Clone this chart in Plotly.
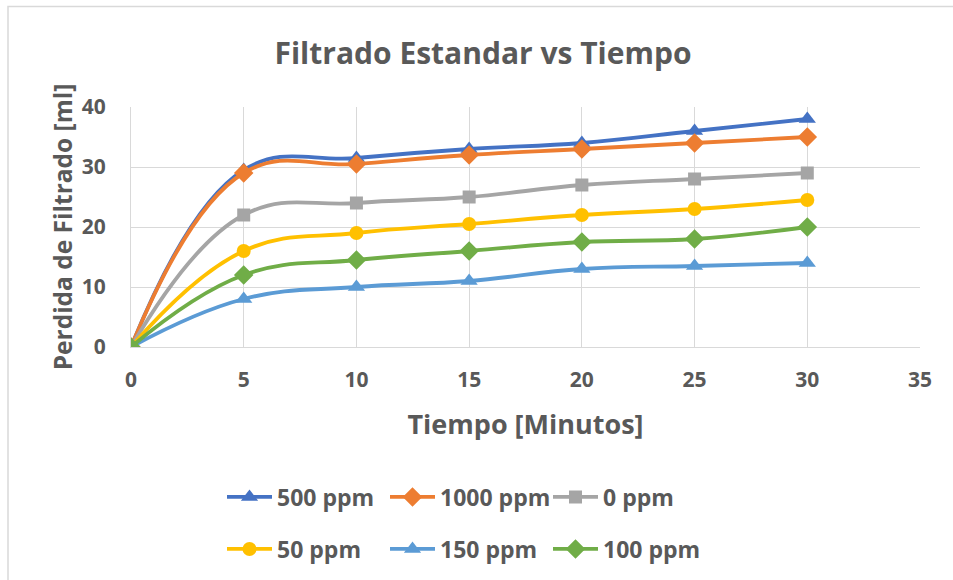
import plotly.graph_objects as go

# Tiempo (minutos)
tiempo = [0, 5, 10, 15, 20, 25, 30]

# Pérdida de filtrado (ml) por concentración
ppm_500 = [0, 29.5, 31.5, 33, 34, 36, 38]
ppm_1000 = [0, 29, 30.5, 32, 33, 34, 35]
ppm_0 = [0, 22, 24, 25, 27, 28, 29]
ppm_50 = [0, 16, 19, 20.5, 22, 23, 24.5]
ppm_150 = [0, 8, 10, 11, 13, 13.5, 14]
ppm_100 = [0, 12, 14.5, 16, 17.5, 18, 20]

series = [
    ("500 ppm", ppm_500, "#4472C4", "triangle-up", 15, "legend"),
    ("1000 ppm", ppm_1000, "#ED7D31", "diamond", 15, "legend"),
    ("0 ppm", ppm_0, "#A5A5A5", "square", 13, "legend"),
    ("50 ppm", ppm_50, "#FFC000", "circle", 14, "legend2"),
    ("150 ppm", ppm_150, "#5B9BD5", "triangle-up", 15, "legend2"),
    ("100 ppm", ppm_100, "#70AD47", "diamond", 15, "legend2"),
]

FONT = "Open Sans"
GREY = "#595959"
GRID = "#D9D9D9"

fig = go.Figure()
for name, vals, color, symbol, size, leg in series:
    fig.add_trace(go.Scatter(
        x=tiempo, y=vals, name=name, mode="lines+markers",
        line=dict(color=color, width=3.8, shape="spline", smoothing=1.2),
        marker=dict(color=color, symbol=symbol, size=size),
        legend=leg,
    ))

W, H = 953, 580
L, R, T, B = 131, 33, 107, 232

legend_style = dict(
    orientation="h", xanchor="left", yanchor="middle",
    entrywidth=103, entrywidthmode="pixels",
    font=dict(family=FONT, size=23, color=GREY, weight="bold"),
    bgcolor="rgba(0,0,0,0)", itemwidth=45, tracegroupgap=0,
)

fig.update_layout(
    width=W, height=H,
    margin=dict(l=L, r=R, t=T, b=B),
    paper_bgcolor="white", plot_bgcolor="white",
    title=dict(
        text="Filtrado Estandar vs Tiempo",
        x=483 / W, xref="container", xanchor="center",
        y=1 - 53 / H, yref="container", yanchor="middle",
        font=dict(family=FONT, size=30, color=GREY, weight="bold"),
    ),
    xaxis=dict(
        range=[0, 35], dtick=5, tick0=0,
        showgrid=True, gridcolor=GRID, gridwidth=1.3,
        zeroline=False, showline=True, linecolor=GRID, linewidth=1.3,
        ticks="", ticklabelstandoff=14,
        tickfont=dict(family=FONT, size=21, color=GREY, weight="bold"),
        title=dict(text="Tiempo [Minutos]", standoff=22,
                   font=dict(family=FONT, size=27, color=GREY, weight="bold")),
    ),
    yaxis=dict(
        range=[0, 40], dtick=10, tick0=0,
        showgrid=True, gridcolor=GRID, gridwidth=1.3,
        zeroline=False, showline=True, linecolor=GRID, linewidth=1.3,
        ticks="", ticklabelstandoff=20,
        tickfont=dict(family=FONT, size=21, color=GREY, weight="bold"),
        title=dict(text="Perdida de Filtrado [ml]", standoff=2,
                   font=dict(family=FONT, size=24.5, color=GREY, weight="bold")),
    ),
    legend=dict(x=(222 - L) / (W - L - R), y=1 - (497 - T) / (H - T - B), **legend_style),
    legend2=dict(x=(222 - L) / (W - L - R), y=1 - (549 - T) / (H - T - B), **legend_style),
    shapes=[dict(
        type="rect", xref="paper", yref="paper",
        x0=(8 - L) / (W - L - R), x1=(965 - L) / (W - L - R),
        y0=1 - (590 - T) / (H - T - B), y1=1 - (6 - T) / (H - T - B),
        line=dict(color=GRID, width=1.5), layer="below",
    )],
)

fig.write_html("out.html")
